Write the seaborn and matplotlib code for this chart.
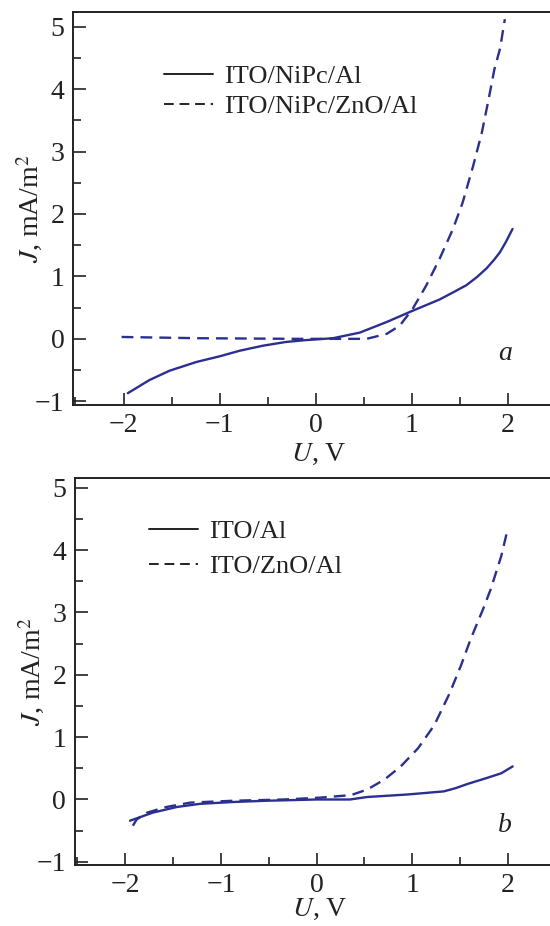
import pandas as pd
import matplotlib
matplotlib.use('Agg')
import matplotlib.pyplot as plt
import seaborn as sns
from matplotlib.ticker import MultipleLocator

# panel a
u_a1 = [-1.955, -1.73, -1.52, -1.24, -1.0, -0.79, -0.55, -0.31, -0.10, 0.18, 0.46, 0.74, 1.01, 1.29, 1.45, 1.57, 1.68, 1.78, 1.86, 1.92, 1.98, 2.05]
j_a1 = [-0.87, -0.66, -0.51, -0.37, -0.28, -0.19, -0.11, -0.05, -0.02, 0.01, 0.10, 0.27, 0.45, 0.63, 0.76, 0.86, 0.99, 1.13, 1.27, 1.39, 1.55, 1.76]
u_a2 = [-2.02, -1.21, -0.17, 0.53, 0.74, 0.875, 1.01, 1.15, 1.29, 1.43, 1.53, 1.64, 1.73, 1.80, 1.86, 1.92, 1.97]
j_a2 = [0.03, 0.01, 0.0, 0.0, 0.08, 0.21, 0.48, 0.85, 1.28, 1.76, 2.18, 2.77, 3.30, 3.83, 4.31, 4.65, 5.12]
lab_a = ['ITO/NiPc/Al', 'ITO/NiPc/ZnO/Al']

# panel b
u_b1 = [-1.95, -1.71, -1.46, -1.22, -0.87, -0.52, 0.0, 0.35, 0.53, 0.95, 1.33, 1.45, 1.58, 1.79, 1.93, 2.05]
j_b1 = [-0.34, -0.21, -0.12, -0.07, -0.04, -0.02, 0.0, 0.0, 0.04, 0.08, 0.13, 0.18, 0.25, 0.35, 0.42, 0.53]
u_b2 = [-1.92, -1.88, -1.77, -1.57, -1.32, -0.87, -0.34, 0.04, 0.36, 0.53, 0.71, 0.88, 1.06, 1.23, 1.39, 1.51, 1.61, 1.74, 1.82, 1.93, 2.0]
j_b2 = [-0.42, -0.32, -0.21, -0.12, -0.05, -0.02, 0.0, 0.03, 0.07, 0.16, 0.32, 0.53, 0.82, 1.19, 1.70, 2.15, 2.57, 3.05, 3.37, 3.90, 4.35]
lab_b = ['ITO/Al', 'ITO/ZnO/Al']

sns.set_style('ticks')
plt.rcParams['font.family'] = ['Liberation Serif', 'DejaVu Serif']
plt.rcParams['mathtext.fontset'] = 'stix'

col = '#2b2f8f'
txt = '#222222'
fs = 20

def make_df(u1, j1, u2, j2, labs):
    d1 = pd.DataFrame({'U': u1, 'J': j1, 'dev': labs[0]})
    d2 = pd.DataFrame({'U': u2, 'J': j2, 'dev': labs[1]})
    return pd.concat([d1, d2], ignore_index=True)

fig = plt.figure(figsize=(5.5, 9.26), dpi=100)
ax1 = fig.add_axes([0.132, 0.5626, 0.868, 0.4241])
ax2 = fig.add_axes([0.1355, 0.0659, 0.8645, 0.4176])

panels = [
    (ax1, make_df(u_a1, j_a1, u_a2, j_a2, lab_a), lab_a, 'a', -0.24, (-1.06, 5.23), (0.191, 0.866), 0.25, -0.094),
    (ax2, make_df(u_b1, j_b1, u_b2, j_b2, lab_b), lab_b, 'b', -0.42, (-1.05, 5.15), (0.156, 0.893), 0.45, -0.083),
]

for ax, df, labs, tag, ty, ylim, lpos, lsp, xly in panels:
    sns.lineplot(data=df, x='U', y='J', style='dev', style_order=labs,
                 dashes=['', (5, 3)], color=col, linewidth=1.7,
                 sort=False, estimator=None, ax=ax)
    ax.set_xlim(-2.53, 2.44)
    ax.set_ylim(*ylim)
    ax.xaxis.set_major_locator(MultipleLocator(1))
    ax.xaxis.set_minor_locator(MultipleLocator(0.5))
    ax.yaxis.set_major_locator(MultipleLocator(1))
    ax.yaxis.set_minor_locator(MultipleLocator(0.5))
    ax.tick_params(which='major', direction='in', length=9, width=1.2, colors=txt,
                   labelsize=fs, pad=6)
    ax.tick_params(which='minor', direction='in', length=6, width=1.2, colors=txt)
    for s in ['left', 'bottom', 'top']:
        ax.spines[s].set_linewidth(1.4)
        ax.spines[s].set_color(txt)
    ax.spines['right'].set_visible(False)
    ax.set_xlabel('$U$, V', fontsize=fs, color=txt)
    ax.set_ylabel('$J$, mA/m$^2$', fontsize=fs, color=txt)
    ax.xaxis.set_label_coords(0.515, xly)
    ax.yaxis.set_label_coords(-0.058, 0.5)
    ax.text(1.97, ty, tag, fontsize=fs, style='italic', color=txt,
            ha='center', va='center')
    leg = ax.legend(loc='upper left', bbox_to_anchor=lpos, frameon=False,
                    fontsize=19, handlelength=1.85, handletextpad=0.45,
                    labelspacing=lsp, borderaxespad=0, borderpad=0)
    for t in leg.get_texts():
        t.set_color(txt)
    for h in leg.get_lines():
        h.set_color(txt)
        h.set_linewidth(1.4)

fig.savefig('out.png', dpi=100)
